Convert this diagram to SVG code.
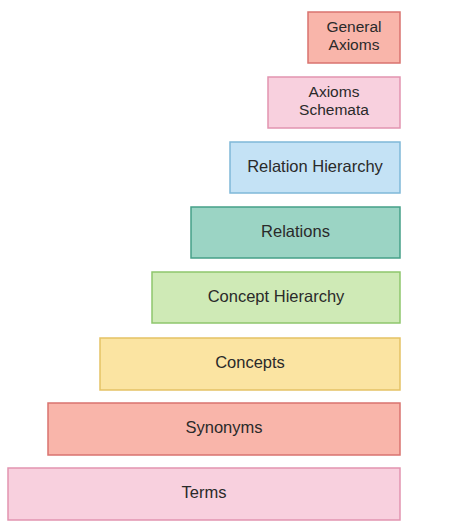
<svg xmlns="http://www.w3.org/2000/svg" width="458" height="524" viewBox="0 0 458 524">
  <style>
    .box { stroke-width: 1.5; }
    .salmon { fill: #f9b5aa; stroke: #d9736f; }
    .pink { fill: #f8d0de; stroke: #e294b0; }
    .blue { fill: #c4e2f5; stroke: #7fb8d8; }
    .teal { fill: #9bd4c4; stroke: #45a088; }
    .green { fill: #cfeab6; stroke: #8ec66c; }
    .yellow { fill: #fbe4a2; stroke: #e5c264; }
    text { font-family: "Liberation Sans", Arial, sans-serif; font-size: 16.5px; fill: #2a2a2a; text-anchor: middle; }
    .small { font-size: 15.5px; }
  </style>
  <rect width="458" height="524" fill="#ffffff"/>
  <g id="general-axioms">
    <rect class="box salmon" x="308" y="12" width="92" height="51"/>
    <text class="small" x="354" y="32">General</text>
    <text class="small" x="354" y="50">Axioms</text>
  </g>
  <g id="axioms-schemata">
    <rect class="box pink" x="268" y="77" width="132" height="51"/>
    <text class="small" x="334" y="97">Axioms</text>
    <text class="small" x="334" y="115">Schemata</text>
  </g>
  <g id="relation-hierarchy">
    <rect class="box blue" x="230" y="142" width="170" height="51"/>
    <text x="315" y="172">Relation Hierarchy</text>
  </g>
  <g id="relations">
    <rect class="box teal" x="191" y="207" width="209" height="51"/>
    <text x="295.5" y="237">Relations</text>
  </g>
  <g id="concept-hierarchy">
    <rect class="box green" x="152" y="272" width="248" height="51"/>
    <text x="276" y="302">Concept Hierarchy</text>
  </g>
  <g id="concepts">
    <rect class="box yellow" x="100" y="338" width="300" height="52"/>
    <text x="250" y="368">Concepts</text>
  </g>
  <g id="synonyms">
    <rect class="box salmon" x="48" y="403" width="352" height="52"/>
    <text x="224" y="433">Synonyms</text>
  </g>
  <g id="terms">
    <rect class="box pink" x="8" y="468" width="392" height="52"/>
    <text x="204" y="498">Terms</text>
  </g>
  <g id="connectors"/>
</svg>
